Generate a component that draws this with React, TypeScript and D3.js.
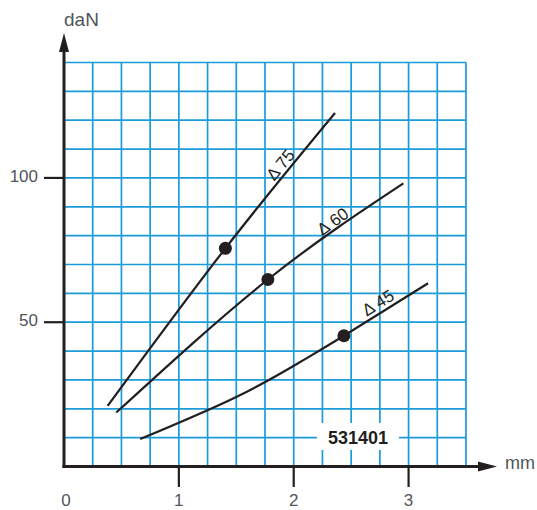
import React from 'react'
import * as d3 from 'd3'

// values
const curveNames = ['Δ 75', 'Δ 60', 'Δ 45']
const curveMm = [
    [0.38, 1.405, 2.36],
    [0.455, 1.775, 2.955],
    [0.663, 1.5, 2.06, 2.437, 3.17],
]
const curveDaN = [
    [21, 75.6, 122.5],
    [18.7, 64.8, 98.1],
    [9.5, 24.1, 36.3, 45.3, 63.5],
]
const dotMm = [1.405, 1.775, 2.437]
const dotDaN = [75.6, 64.8, 45.3]
const labelMm = [1.95, 2.39, 2.78]
const xTickValues = [1, 2, 3]
const xTickLabels = ['0', '1', '2', '3']
const yTickValues = [50, 100]
const partNumber = '531401'

const W = 537
const H = 510
const GRID = '#1b9bd8'
const INK = '#231f20'
const GREY = '#4f565b'
const FONT = '"Liberation Sans", Arial, Helvetica, sans-serif'

const App = () => {
    const x = d3.scaleLinear().domain([0, 3.5]).range([64, 466])
    const y = d3.scaleLinear().domain([0, 140]).range([466.5, 62.5])

    const xGrid = d3.range(1, 15).map(i => i * 0.25)
    const yGrid = d3.range(1, 15).map(i => i * 10)

    const line = d3.line<[number, number]>()
        .x(d => x(d[0]))
        .y(d => y(d[1]))
        .curve(d3.curveNatural)

    // place a label along its curve (linear interpolation of the read points)
    const labelPos = (i: number) => {
        const xs = curveMm[i]
        const ys = curveDaN[i]
        const at = (m: number) => {
            let k = 0
            while (k < xs.length - 2 && m > xs[k + 1]) k++
            const t = (m - xs[k]) / (xs[k + 1] - xs[k])
            return ys[k] + t * (ys[k + 1] - ys[k])
        }
        const m = labelMm[i]
        const px = x(m)
        const py = y(at(m))
        const a = Math.atan2(y(at(m + 0.05)) - y(at(m - 0.05)), x(m + 0.05) - x(m - 0.05))
        return { px, py, deg: (a * 180) / Math.PI }
    }

    return (
        <svg width={W} height={H} style={{ position: 'absolute', left: 0, top: 0, background: '#fff' }}
            fontFamily={FONT}>
            {/* grid */}
            <g stroke={GRID} strokeWidth={1.7}>
                {xGrid.map(v => (
                    <line key={'vx' + v} x1={x(v)} x2={x(v)} y1={y(140)} y2={y(0)} />
                ))}
                {yGrid.map(v => (
                    <line key={'hy' + v} x1={x(0)} x2={x(3.5)} y1={y(v)} y2={y(v)} />
                ))}
            </g>

            {/* part number box */}
            <rect x={317} y={423} width={82} height={27} fill="#fff" />
            <text x={358} y={443.5} textAnchor="middle" fontSize={18} fontWeight="bold" fill={INK}>
                {partNumber}
            </text>

            {/* axes */}
            <g stroke={INK} strokeWidth={3}>
                <line x1={x(0)} x2={x(0)} y1={y(0) + 1.5} y2={50} />
                <line x1={x(0) - 1.5} x2={482} y1={y(0)} y2={y(0)} />
                {xTickValues.map(v => (
                    <line key={'xt' + v} x1={x(v)} x2={x(v)} y1={y(0)} y2={487} strokeWidth={2.2} />
                ))}
                {yTickValues.map(v => (
                    <line key={'yt' + v} x1={44} x2={x(0)} y1={y(v)} y2={y(v)} strokeWidth={2.2} />
                ))}
            </g>
            <path d={`M${x(0)},33 L${x(0) - 5},52 L${x(0) + 5},52 Z`} fill={INK} />
            <path d={`M497,${y(0)} L478,${y(0) - 5} L478,${y(0) + 5} Z`} fill={INK} />

            {/* tick labels */}
            <g fontSize={17} fill={GREY}>
                {yTickValues.map(v => (
                    <text key={'yl' + v} x={38} y={y(v) + 4} textAnchor="end">{v}</text>
                ))}
                {xTickLabels.map((t, i) => (
                    <text key={'xl' + t} x={x(i) + (i === 0 ? 2 : 0)} y={506} textAnchor="middle">{t}</text>
                ))}
            </g>
            <text x={64} y={26} fontSize={19} fill={GREY}>daN</text>
            <text x={505} y={469} fontSize={18} fill={GREY}>mm</text>

            {/* curves */}
            {curveNames.map((name, i) => (
                <path key={name} d={line(curveMm[i].map((m, j) => [m, curveDaN[i][j]] as [number, number])) || ''}
                    fill="none" stroke={INK} strokeWidth={2.2} />
            ))}
            {dotMm.map((m, i) => (
                <circle key={'dot' + i} cx={x(m)} cy={y(dotDaN[i])} r={6.5} fill={INK} />
            ))}
            {curveNames.map((name, i) => {
                const p = labelPos(i)
                return (
                    <text key={'lab' + i} transform={`translate(${p.px},${p.py}) rotate(${p.deg})`}
                        y={-4} textAnchor="middle" fontSize={17} fill={INK}>{name}</text>
                )
            })}
        </svg>
    )
}

export default App
